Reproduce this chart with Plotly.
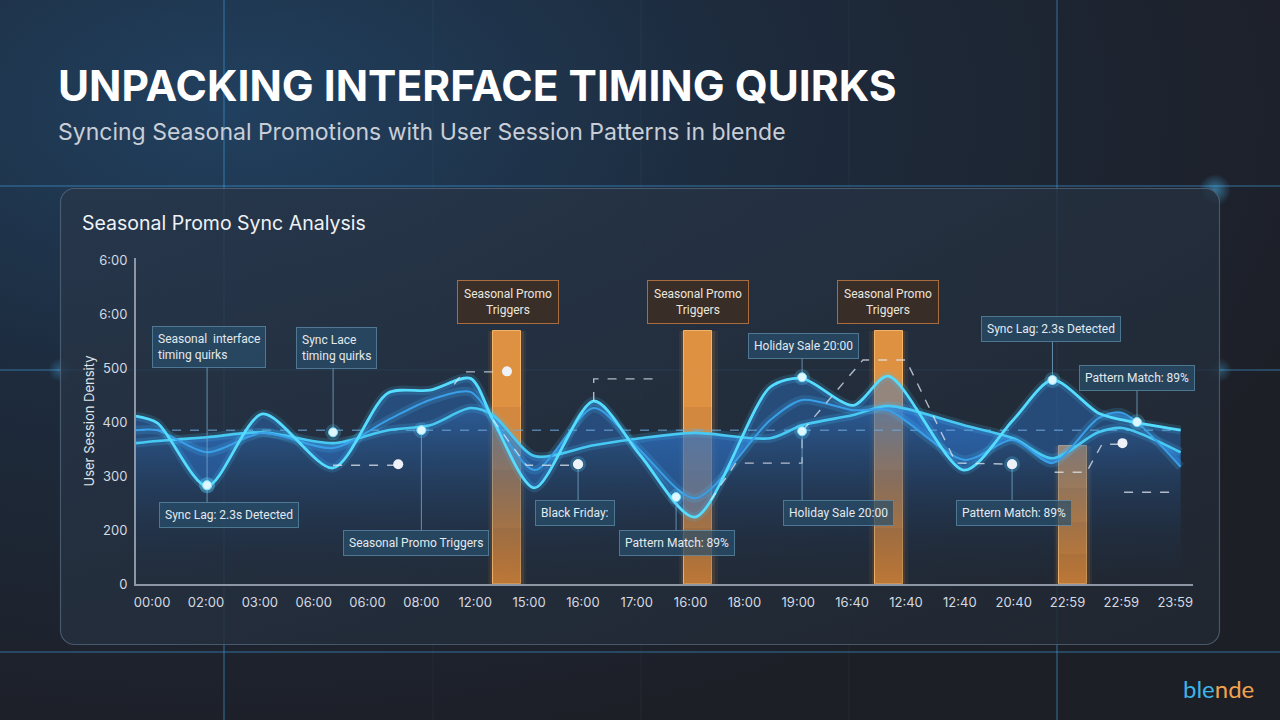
import base64
import plotly.graph_objects as go

# ---------------- data ----------------
x_labels = ["00:00", "02:00", "03:00", "06:00", "06:00", "08:00", "12:00", "15:00", "16:00", "17:00",
            "16:00", "18:00", "19:00", "16:40", "12:40", "12:40", "20:40", "22:59", "22:59", "23:59"]
y_tick_vals = [100, 200, 300, 400, 500, 600, 700]
y_tick_text = ["0", "200", "300", "400", "500", "6:00", "6:00"]

x_pts = [-0.3, 0.1, 1.02, 2.05, 3.36, 4.38, 5.16, 5.91, 6.33, 7.1, 8.2, 9.06, 10.08,
         11.48, 12.07, 13.02, 13.67, 15.08, 15.99, 16.72, 17.57, 18.02, 19.1]
peak_density = [411, 398, 281, 415, 315, 454, 459, 481, 404, 278, 439, 339, 224,
                465, 481, 431, 485, 311, 404, 478, 417, 404, 385]
mid_density = [385, 385, 344, 380, 352, 404, 441, 456, 407, 311, 426, 348, 259,
               404, 441, 422, 422, 330, 367, 324, 407, 417, 317]
base_density = [361, 365, 372, 381, 361, 385, 394, 426, 413, 337, 357, 370, 380,
                370, 394, 413, 430, 394, 370, 333, 381, 389, 344]
reference_level = 385
axis_floor = 100

promo_x = [6.59, 10.14, 13.68, 17.1]
promo_top = [568, 568, 568, 355]

promo_label_x = [6.61, 10.14, 13.67]
promo_label_v = [622, 622, 622]
promo_label_text = "Seasonal Promo<br>Triggers"

step_paths = [
    ([3.36, 4.57], [320, 320]),
    ([5.61, 5.78, 6.59], [470, 493, 493]),
    ([6.33, 6.95, 7.91], [404, 320, 320]),
    ([8.2, 8.2, 9.33], [439, 480, 480]),
    ([10.37, 10.84, 12.07, 12.07, 13.2, 14.0, 14.93, 15.97], [255, 324, 324, 383, 515, 515, 324, 322]),
    ([16.76, 17.35, 17.64, 18.02], [307, 307, 359, 359]),
    ([18.05, 18.96], [270, 270]),
]
step_end_x = [4.57, 6.59, 7.91, 15.97, 18.02]
step_end_v = [322, 494, 322, 322, 361]

callout_text = ["Seasonal  interface<br>timing quirks", "Sync Lace<br>timing quirks",
                "Sync Lag: 2.3s Detected", "Seasonal Promo Triggers", "Black Friday:",
                "Pattern Match: 89%", "Holiday Sale 20:00", "Holiday Sale 20:00",
                "Pattern Match: 89%", "Sync Lag: 2.3s Detected", "Pattern Match: 89%"]
callout_box_x = [1.05, 3.42, 1.43, 4.9, 7.86, 9.75, 12.09, 12.74, 16.01, 16.7, 18.29]
callout_box_v = [539, 537, 228, 176, 231, 176, 541, 231, 231, 572, 481]
callout_pt_x = [1.02, 3.36, 1.02, 5.0, 7.91, 9.73, 12.07, 12.07, 15.97, 16.72, 18.29]
callout_pt_v = [283, 381, 283, 385, 322, 261, 483, 383, 322, 478, 400]
callout_lines = [2, 2, 1, 1, 1, 1, 1, 1, 1, 1, 1]

# ---------------- background (decorative svg) ----------------
bg_svg = """<svg xmlns="http://www.w3.org/2000/svg" width="1280" height="720" viewBox="0 0 1280 720" preserveAspectRatio="none">
<defs>
<radialGradient id="g1" cx="0.18" cy="0.15" r="0.9">
<stop offset="0" stop-color="#21405f"/>
<stop offset="0.45" stop-color="#1d2b3d"/>
<stop offset="1" stop-color="#1d1f27"/>
</radialGradient>
<linearGradient id="card" x1="0" y1="0" x2="1" y2="1">
<stop offset="0" stop-color="#27364a" stop-opacity="0.85"/>
<stop offset="1" stop-color="#212832" stop-opacity="0.85"/>
</linearGradient>
<radialGradient id="glow"><stop offset="0" stop-color="#4fc3ff" stop-opacity="0.5"/><stop offset="1" stop-color="#4fc3ff" stop-opacity="0"/></radialGradient>
</defs>
<rect width="1280" height="720" fill="url(#g1)"/>
<g stroke="#7fa8cc" stroke-opacity="0.07" stroke-width="1">
<line x1="433" y1="0" x2="433" y2="720"/><line x1="641" y1="0" x2="641" y2="720"/><line x1="849" y1="0" x2="849" y2="720"/>
</g>
<g stroke="#3f9ad6" stroke-opacity="0.45" stroke-width="1.5">
<line x1="224" y1="0" x2="224" y2="720"/><line x1="1057" y1="0" x2="1057" y2="720"/>
<line x1="0" y1="186" x2="1280" y2="186"/>
<line x1="0" y1="370" x2="1280" y2="370"/>
<line x1="0" y1="652" x2="1280" y2="652"/>
</g>
<circle cx="1215" cy="190" r="16" fill="url(#glow)"/>
<circle cx="60" cy="370" r="12" fill="url(#glow)" opacity="0.6"/>
<circle cx="1220" cy="370" r="12" fill="url(#glow)" opacity="0.6"/>
<rect x="60.5" y="188.5" width="1159" height="456" rx="14" fill="url(#card)" stroke="#55687c" stroke-opacity="0.75" stroke-width="1.2"/>
</svg>"""
bg_src = "data:image/svg+xml;base64," + base64.b64encode(bg_svg.encode()).decode()

fig = go.Figure()

# ---------------- area fills ----------------
fig.add_trace(go.Scatter(
    x=x_pts, y=base_density, mode="lines", line=dict(width=0, shape="spline", smoothing=0.8),
    fill="tozeroy",
    fillgradient=dict(type="vertical", start=axis_floor, stop=430,
                      colorscale=[[0, "rgba(25,45,75,0.0)"], [1, "rgba(48,115,195,0.68)"]]),
    hoverinfo="skip", showlegend=False))
fig.add_trace(go.Scatter(
    x=x_pts, y=mid_density, mode="lines", line=dict(width=0, shape="spline", smoothing=0.8),
    fill="tonexty", fillcolor="rgba(45,120,210,0.42)", hoverinfo="skip", showlegend=False))
fig.add_trace(go.Scatter(
    x=x_pts, y=peak_density, mode="lines", line=dict(width=0, shape="spline", smoothing=0.8),
    fill="tonexty", fillcolor="rgba(45,120,210,0.42)", hoverinfo="skip", showlegend=False))

# reference dashed line
fig.add_trace(go.Scatter(
    x=[x_pts[0], x_pts[-1]], y=[reference_level, reference_level], mode="lines",
    line=dict(color="rgba(110,170,225,0.65)", width=1.5, dash="dash"),
    hoverinfo="skip", showlegend=False))

# ---------------- lines with glow ----------------
series = [(base_density, "#48c9f4", 2.6), (mid_density, "#3a9fe8", 2.0), (peak_density, "#55dcff", 2.8)]
for vals, col, w in series:
    fig.add_trace(go.Scatter(x=x_pts, y=vals, mode="lines",
                             line=dict(color="rgba(70,200,255,0.16)", width=9, shape="spline", smoothing=0.8),
                             hoverinfo="skip", showlegend=False))
for vals, col, w in series:
    fig.add_trace(go.Scatter(x=x_pts, y=vals, mode="lines",
                             line=dict(color=col, width=w, shape="spline", smoothing=0.8),
                             hoverinfo="skip", showlegend=False))

# ---------------- promo bars ----------------
heights = [t - axis_floor for t in promo_top]
for wdt, col in [(0.72, "rgba(245,150,60,0.07)"), (0.62, "rgba(245,150,60,0.12)")]:
    fig.add_trace(go.Bar(x=promo_x, y=heights, base=axis_floor, width=wdt,
                         marker=dict(color=col, line=dict(width=0)), hoverinfo="skip", showlegend=False))
fig.add_trace(go.Bar(x=promo_x, y=heights, base=axis_floor, width=0.52,
                     marker=dict(color="rgba(247,158,66,0.86)", line=dict(color="rgba(255,190,110,0.9)", width=1)),
                     hoverinfo="skip", showlegend=False))
for frac in [0.7, 0.45, 0.22]:
    fig.add_trace(go.Bar(x=promo_x, y=[h * frac for h in heights], base=axis_floor, width=0.52,
                         marker=dict(color="rgba(60,35,30,0.07)", line=dict(width=0)),
                         hoverinfo="skip", showlegend=False))

# ---------------- dashed step connectors ----------------
for sx, sv in step_paths:
    fig.add_trace(go.Scatter(x=sx, y=sv, mode="lines",
                             line=dict(color="rgba(225,232,240,0.75)", width=1.4, dash="dash"),
                             hoverinfo="skip", showlegend=False))

# ---------------- callout connectors ----------------
for bx, bv, px, pv, nl in zip(callout_box_x, callout_box_v, callout_pt_x, callout_pt_v, callout_lines):
    half = 37 if nl == 2 else 23
    end_v = bv - half if bv > pv else bv + half
    fig.add_trace(go.Scatter(x=[px, px], y=[pv, end_v], mode="lines",
                             line=dict(color="rgba(120,175,210,0.75)", width=1),
                             hoverinfo="skip", showlegend=False))

# ---------------- markers ----------------
fig.add_trace(go.Scatter(x=callout_pt_x, y=callout_pt_v, mode="markers",
                         marker=dict(size=16, color="rgba(90,215,255,0.22)"), hoverinfo="skip", showlegend=False))
fig.add_trace(go.Scatter(x=callout_pt_x, y=callout_pt_v, mode="markers",
                         marker=dict(size=9, color="#dff7ff", line=dict(color="#7fe0ff", width=1)),
                         hoverinfo="skip", showlegend=False))
fig.add_trace(go.Scatter(x=step_end_x, y=step_end_v, mode="markers",
                         marker=dict(size=10, color="#eef2f7"), hoverinfo="skip", showlegend=False))

# ---------------- annotations ----------------
box_font = "Roboto, Inter, sans-serif"
ann = []
for t, bx, bv in zip(callout_text, callout_box_x, callout_box_v):
    ann.append(dict(x=bx, y=bv, xref="x", yref="y", text=t, showarrow=False, align="left",
                    font=dict(family=box_font, size=12, color="#e3e9ef"),
                    bgcolor="rgba(40,78,105,0.72)", bordercolor="rgba(95,145,175,0.7)",
                    borderwidth=1, borderpad=5))
for bx, bv in zip(promo_label_x, promo_label_v):
    ann.append(dict(x=bx, y=bv, xref="x", yref="y", text=promo_label_text, showarrow=False, align="center",
                    font=dict(family=box_font, size=12, color="#ece6df"),
                    bgcolor="rgba(60,46,38,0.92)", bordercolor="#a86c3e",
                    borderwidth=1, borderpad=6))

ann.append(dict(x=56 / 1280, y=1 - 85 / 720, xref="paper", yref="paper", xanchor="left", yanchor="middle",
                text="<b>UNPACKING INTERFACE TIMING QUIRKS</b>", showarrow=False,
                font=dict(family="Inter, sans-serif", size=42.5, color="#ffffff")))
ann.append(dict(x=56 / 1280, y=1 - 132 / 720, xref="paper", yref="paper", xanchor="left", yanchor="middle",
                text="Syncing Seasonal Promotions with User Session Patterns in blende", showarrow=False,
                font=dict(family="Inter, sans-serif", size=23, color="#c8ced8")))
ann.append(dict(x=80 / 1280, y=1 - 223 / 720, xref="paper", yref="paper", xanchor="left", yanchor="middle",
                text="Seasonal Promo Sync Analysis", showarrow=False,
                font=dict(family="Inter, sans-serif", size=19.5, color="#eef2f6")))
ann.append(dict(x=1256 / 1280, y=1 - 688 / 720, xref="paper", yref="paper", xanchor="right", yanchor="middle",
                text='<span style="color:#3fb4e8">ble</span><span style="color:#f0a24e">nde</span>',
                showarrow=False, font=dict(family="Lato, sans-serif", size=24)))

fig.update_layout(
    template="none", width=1280, height=720, margin=dict(l=0, r=0, t=0, b=0),
    paper_bgcolor="#1c2430", plot_bgcolor="rgba(0,0,0,0)",
    font=dict(family="Inter, sans-serif", color="#d3d9e1"),
    barmode="overlay", bargap=0, showlegend=False,
    images=[dict(source=bg_src, xref="paper", yref="paper", x=0, y=1, sizex=1, sizey=1,
                 xanchor="left", yanchor="top", sizing="stretch", layer="below")],
    annotations=ann,
    xaxis=dict(domain=[136 / 1280, 1193 / 1280], range=[-0.3, 19.33], automargin=False,
               tickvals=list(range(len(x_labels))), ticktext=x_labels,
               showline=True, linecolor="#8c96a5", linewidth=2, showgrid=False, zeroline=False,
               ticks="", ticklabelstandoff=5,
               tickfont=dict(family="Inter, sans-serif", size=13, color="#d3d9e1")),
    yaxis=dict(domain=[1 - 584 / 720, 1 - 258 / 720], range=[axis_floor, 704], automargin=False,
               tickvals=y_tick_vals, ticktext=y_tick_text,
               showline=True, linecolor="#8c96a5", linewidth=2, showgrid=False, zeroline=False,
               ticks="", ticklabelstandoff=4,
               tickfont=dict(family="Inter, sans-serif", size=13, color="#d3d9e1"),
               title=dict(text="User Session Density", standoff=2,
                          font=dict(family="Inter, sans-serif", size=13, color="#dfe5ec"))),
)

fig.write_html("out.html")
